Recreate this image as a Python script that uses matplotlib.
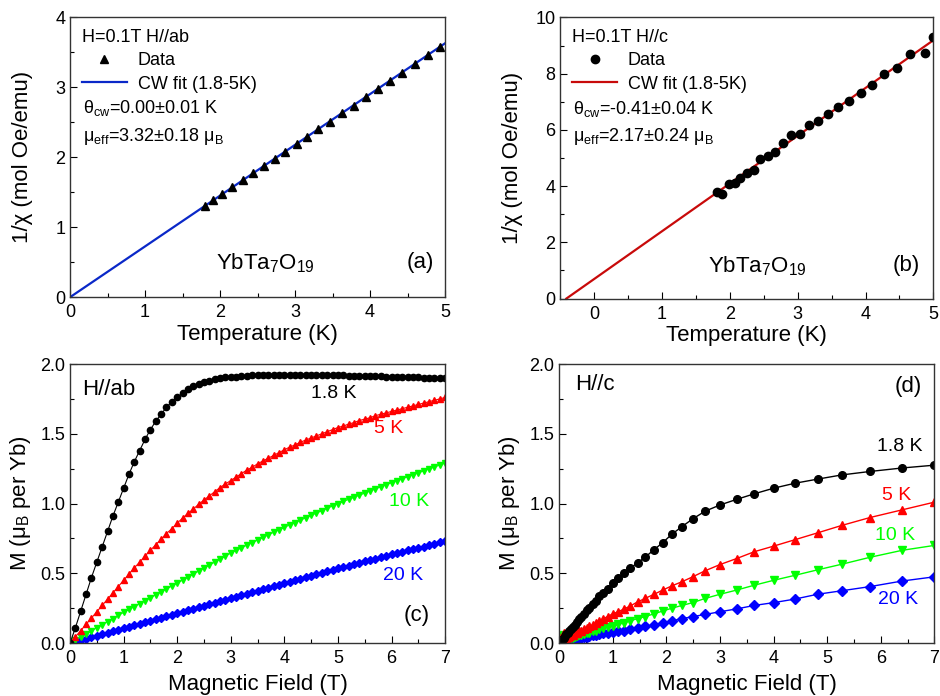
import matplotlib
matplotlib.use("Agg")
from matplotlib import pyplot as plt
from matplotlib.ticker import MultipleLocator, FormatStrFormatter

plt.rcParams['font.family'] = ['Liberation Sans', 'DejaVu Sans']
plt.rcParams['mathtext.fontset'] = 'custom'
plt.rcParams['mathtext.rm'] = 'Liberation Sans'
plt.rcParams['mathtext.it'] = 'Liberation Sans:italic'
plt.rcParams['mathtext.default'] = 'regular'

# (a) 1/chi vs T, H//ab
a_T = [1.80, 1.91, 2.03, 2.16, 2.30, 2.44, 2.59, 2.73, 2.87, 3.02, 3.16,
       3.31, 3.46, 3.62, 3.78, 3.94, 4.10, 4.26, 4.43, 4.60, 4.77, 4.93]
a_inv = [1.31, 1.39, 1.47, 1.57, 1.67, 1.77, 1.88, 1.98, 2.08, 2.19, 2.29,
         2.40, 2.51, 2.63, 2.74, 2.86, 2.98, 3.09, 3.21, 3.34, 3.46, 3.58]
a_fit_T = [0.0, 5.0]
a_fit_inv = [0.0, 3.63]

# (b) 1/chi vs T, H//c
b_T = [1.81, 1.89, 1.98, 2.07, 2.15, 2.25, 2.35, 2.45, 2.56, 2.67, 2.79, 2.90,
       3.03, 3.16, 3.30, 3.44, 3.60, 3.76, 3.93, 4.09, 4.27, 4.47, 4.66, 4.87, 5.00]
b_inv = [3.80, 3.71, 4.07, 4.10, 4.30, 4.48, 4.58, 4.95, 5.07, 5.21, 5.55, 5.81,
         5.84, 6.16, 6.31, 6.58, 6.82, 7.02, 7.32, 7.59, 7.98, 8.21, 8.69, 8.75, 9.30]
b_fit_T = [-0.41, 5.0]
b_fit_inv = [0.0, 9.19]

# (c) M vs H, H//ab  (field 0..7 T, 0.1 T steps)
c_H = [i / 10 for i in range(71)]
c_18 = [0.00, 0.11, 0.23, 0.35, 0.47, 0.58, 0.69, 0.80, 0.91, 1.01,
        1.11, 1.21, 1.30, 1.38, 1.46, 1.53, 1.59, 1.64, 1.69, 1.73,
        1.76, 1.79, 1.82, 1.84, 1.86, 1.87, 1.88, 1.89, 1.90, 1.905,
        1.91, 1.91, 1.915, 1.915, 1.92, 1.92, 1.92, 1.92, 1.92, 1.92,
        1.92, 1.92, 1.92, 1.92, 1.92, 1.92, 1.92, 1.92, 1.92, 1.92,
        1.92, 1.918, 1.917, 1.916, 1.915, 1.914, 1.913, 1.912, 1.911, 1.91,
        1.909, 1.908, 1.907, 1.906, 1.905, 1.904, 1.903, 1.902, 1.901, 1.90,
        1.90]
c_5 = [0.00, 0.045, 0.09, 0.135, 0.18, 0.225, 0.27, 0.315, 0.36, 0.405,
       0.45, 0.495, 0.54, 0.58, 0.625, 0.665, 0.705, 0.745, 0.785, 0.82,
       0.86, 0.895, 0.93, 0.96, 0.995, 1.025, 1.055, 1.085, 1.115, 1.14,
       1.165, 1.19, 1.215, 1.24, 1.26, 1.285, 1.305, 1.325, 1.345, 1.365,
       1.385, 1.405, 1.42, 1.44, 1.455, 1.47, 1.485, 1.50, 1.515, 1.53,
       1.545, 1.555, 1.57, 1.58, 1.595, 1.605, 1.615, 1.63, 1.64, 1.65,
       1.66, 1.67, 1.68, 1.69, 1.70, 1.71, 1.72, 1.73, 1.74, 1.75,
       1.76]
c_10 = [0.0, 0.022, 0.044, 0.066, 0.088, 0.11, 0.132, 0.154, 0.176, 0.198,
        0.22, 0.241, 0.262, 0.283, 0.304, 0.325, 0.346, 0.367, 0.388, 0.409,
        0.43, 0.451, 0.473, 0.494, 0.516, 0.537, 0.559, 0.58, 0.602, 0.623,
        0.645, 0.664, 0.683, 0.702, 0.72, 0.739, 0.757, 0.776, 0.794, 0.812,
        0.83, 0.847, 0.864, 0.881, 0.898, 0.915, 0.932, 0.949, 0.966, 0.983,
        1.0, 1.015, 1.03, 1.045, 1.06, 1.075, 1.09, 1.105, 1.12, 1.135,
        1.15, 1.164, 1.178, 1.192, 1.206, 1.22, 1.234, 1.248, 1.262, 1.276,
        1.29]
c_20 = [0.0, 0.011, 0.021, 0.032, 0.042, 0.053, 0.063, 0.074, 0.084, 0.095,
        0.105, 0.116, 0.127, 0.138, 0.149, 0.16, 0.171, 0.182, 0.193, 0.204,
        0.215, 0.226, 0.236, 0.247, 0.257, 0.268, 0.278, 0.289, 0.299, 0.31,
        0.32, 0.331, 0.342, 0.353, 0.364, 0.375, 0.386, 0.397, 0.408, 0.419,
        0.43, 0.44, 0.451, 0.461, 0.472, 0.482, 0.493, 0.503, 0.514, 0.524,
        0.535, 0.545, 0.555, 0.565, 0.575, 0.585, 0.595, 0.605, 0.615, 0.625,
        0.635, 0.645, 0.654, 0.664, 0.673, 0.683, 0.692, 0.702, 0.711, 0.721,
        0.73]

# (d) M vs H, H//c
d_H = [0.02, 0.04, 0.06, 0.08, 0.10, 0.13, 0.16, 0.19, 0.22, 0.25, 0.29,
       0.33, 0.37, 0.41, 0.46, 0.51, 0.56, 0.62, 0.68, 0.75, 0.82, 0.90,
       1.00, 1.10, 1.21, 1.32, 1.46, 1.60, 1.77, 1.93, 2.10, 2.29, 2.49,
       2.72, 3.00, 3.31, 3.64, 4.00, 4.39, 4.82, 5.27, 5.80, 6.40, 7.00]
d_18 = [0.01, 0.02, 0.03, 0.04, 0.05, 0.065, 0.075, 0.09, 0.10, 0.115, 0.13,
        0.15, 0.17, 0.19, 0.21, 0.235, 0.255, 0.28, 0.305, 0.335, 0.36, 0.39,
        0.43, 0.465, 0.50, 0.535, 0.575, 0.615, 0.67, 0.72, 0.78, 0.835, 0.89,
        0.945, 0.99, 1.03, 1.07, 1.11, 1.145, 1.175, 1.205, 1.23, 1.255, 1.275]
d_5 = [0.02, 0.04, 0.06, 0.07, 0.06, 0.04, 0.045, 0.05, 0.055, 0.06, 0.07,
       0.075, 0.085, 0.09, 0.10, 0.11, 0.12, 0.13, 0.145, 0.16, 0.175, 0.19,
       0.21, 0.225, 0.245, 0.265, 0.295, 0.32, 0.35, 0.38, 0.41, 0.44, 0.475,
       0.518, 0.563, 0.606, 0.655, 0.695, 0.74, 0.79, 0.843, 0.90, 0.955, 1.01]
d_10 = [0.02, 0.035, 0.05, 0.06, 0.05, 0.03, 0.03, 0.035, 0.035, 0.04, 0.045,
        0.05, 0.055, 0.06, 0.065, 0.07, 0.075, 0.085, 0.09, 0.10, 0.105, 0.115,
        0.125, 0.135, 0.145, 0.16, 0.175, 0.19, 0.21, 0.23, 0.25, 0.27, 0.29,
        0.32, 0.35, 0.38, 0.415, 0.45, 0.485, 0.525, 0.565, 0.615, 0.665, 0.70]
d_20 = [0.02, 0.03, 0.04, 0.05, 0.04, 0.025, 0.02, 0.025, 0.025, 0.03, 0.03,
        0.035, 0.035, 0.04, 0.045, 0.045, 0.05, 0.055, 0.06, 0.065, 0.07, 0.075,
        0.08, 0.085, 0.09, 0.10, 0.11, 0.12, 0.13, 0.145, 0.16, 0.175, 0.19,
        0.205, 0.225, 0.245, 0.27, 0.29, 0.315, 0.35, 0.375, 0.405, 0.445, 0.475]

RED = '#FF0000'
GREEN = '#00FF00'
BLUE = '#0000FF'

fig = plt.figure(figsize=(9.4, 6.96), dpi=100)
ax_a = fig.add_axes([0.0745, 0.573, 0.399, 0.402])
ax_b = fig.add_axes([0.596, 0.571, 0.397, 0.404])
ax_c = fig.add_axes([0.0745, 0.076, 0.399, 0.401])
ax_d = fig.add_axes([0.595, 0.076, 0.399, 0.401])


def style(ax, xmaj, ymaj):
    ax.xaxis.set_major_locator(MultipleLocator(xmaj))
    ax.xaxis.set_minor_locator(MultipleLocator(xmaj / 2))
    ax.yaxis.set_major_locator(MultipleLocator(ymaj))
    ax.yaxis.set_minor_locator(MultipleLocator(ymaj / 2))
    ax.tick_params(which='both', direction='in', labelsize=13, width=0.8)
    ax.tick_params(which='major', length=5)
    ax.tick_params(which='minor', length=3)
    ax.tick_params(axis='x', pad=5)
    for s in ax.spines.values():
        s.set_linewidth(1.0)
        s.set_color('#333333')
    ax.yaxis.set_label_coords(-0.10, 0.5)


def legend_block(ax, title, theta, mu):
    h, l = ax.get_legend_handles_labels()
    ax.legend(h[::-1], l[::-1], title=title, loc='upper left', frameon=False,
              fontsize=13, title_fontsize=13, handlelength=2.5, borderaxespad=0.25,
              labelspacing=0.35, handletextpad=0.6, alignment='left')
    ax.text(0.035, 0.675, theta, transform=ax.transAxes, fontsize=13, va='center')
    ax.text(0.035, 0.575, mu, transform=ax.transAxes, fontsize=13, va='center')


# panel (a)
ax_a.plot(a_fit_T, a_fit_inv, color='#0A28C8', lw=1.6, label='CW fit (1.8-5K)')
ax_a.plot(a_T, a_inv, '^', color='black', ms=6, label='Data')
ax_a.set_xlim(0, 5)
ax_a.set_ylim(0, 4)
style(ax_a, 1, 1)
ax_a.set_xlabel('Temperature (K)', fontsize=16, labelpad=2)
ax_a.set_ylabel('1/χ (mol Oe/emu)', fontsize=16)
legend_block(ax_a, 'H=0.1T H//ab', 'θ$_{cw}$=0.00±0.01 K', 'μ$_{eff}$=3.32±0.18 μ$_{B}$')
ax_a.text(2.6, 0.49, 'YbTa$_{7}$O$_{19}$', fontsize=16, ha='center', va='center')
ax_a.text(4.67, 0.49, '(a)', fontsize=16, ha='center', va='center')

# panel (b)
ax_b.plot(b_fit_T, b_fit_inv, color='#C80A0A', lw=1.6, label='CW fit (1.8-5K)')
ax_b.plot(b_T, b_inv, 'o', color='black', ms=6, label='Data')
ax_b.set_xlim(-0.5, 5)
ax_b.set_ylim(0, 10)
style(ax_b, 1, 2)
ax_b.set_xlabel('Temperature (K)', fontsize=16, labelpad=2)
ax_b.set_ylabel('1/χ (mol Oe/emu)', fontsize=16)
legend_block(ax_b, 'H=0.1T H//c', 'θ$_{cw}$=-0.41±0.04 K', 'μ$_{eff}$=2.17±0.24 μ$_{B}$')
ax_b.text(2.4, 1.16, 'YbTa$_{7}$O$_{19}$', fontsize=16, ha='center', va='center')
ax_b.text(4.6, 1.16, '(b)', fontsize=16, ha='center', va='center')

# panel (c)
ax_c.plot(c_H, c_20, 'D-', color=BLUE, ms=4, lw=0.8)
ax_c.plot(c_H, c_10, 'v-', color=GREEN, ms=5, lw=0.8)
ax_c.plot(c_H, c_5, '^-', color=RED, ms=5, lw=0.8)
ax_c.plot(c_H, c_18, 'o-', color='black', ms=4.5, lw=0.8)
ax_c.set_xlim(0, 7)
ax_c.set_ylim(0, 2)
style(ax_c, 1, 0.5)
ax_c.yaxis.set_major_formatter(FormatStrFormatter('%.1f'))
ax_c.set_xlabel('Magnetic Field (T)', fontsize=16, labelpad=5)
ax_c.set_ylabel('M (μ$_{B}$ per Yb)', fontsize=16)
ax_c.text(0.72, 1.82, 'H//ab', fontsize=16, ha='center', va='center')
ax_c.text(4.93, 1.79, '1.8 K', fontsize=14, ha='center', va='center', color='black')
ax_c.text(5.94, 1.54, '5 K', fontsize=14, ha='center', va='center', color=RED)
ax_c.text(6.32, 1.015, '10 K', fontsize=14, ha='center', va='center', color=GREEN)
ax_c.text(6.22, 0.485, '20 K', fontsize=14, ha='center', va='center', color=BLUE)
ax_c.text(6.47, 0.2, '(c)', fontsize=16, ha='center', va='center')

# panel (d)
ax_d.plot(d_H, d_20, 'D-', color=BLUE, ms=5, lw=1)
ax_d.plot(d_H, d_10, 'v-', color=GREEN, ms=6, lw=1)
ax_d.plot(d_H, d_5, '^-', color=RED, ms=6, lw=1)
ax_d.plot(d_H, d_18, 'o-', color='black', ms=5.5, lw=1)
ax_d.set_xlim(0, 7)
ax_d.set_ylim(0, 2)
style(ax_d, 1, 0.5)
ax_d.yaxis.set_major_formatter(FormatStrFormatter('%.1f'))
ax_d.set_xlabel('Magnetic Field (T)', fontsize=16, labelpad=5)
ax_d.set_ylabel('M (μ$_{B}$ per Yb)', fontsize=16)
ax_d.text(0.67, 1.85, 'H//c', fontsize=16, ha='center', va='center')
ax_d.text(6.52, 1.84, '(d)', fontsize=16, ha='center', va='center')
ax_d.text(6.35, 1.41, '1.8 K', fontsize=14, ha='center', va='center', color='black')
ax_d.text(6.3, 1.06, '5 K', fontsize=14, ha='center', va='center', color=RED)
ax_d.text(6.27, 0.77, '10 K', fontsize=14, ha='center', va='center', color=GREEN)
ax_d.text(6.33, 0.316, '20 K', fontsize=14, ha='center', va='center', color=BLUE)

fig.savefig('out.png', dpi=100)
